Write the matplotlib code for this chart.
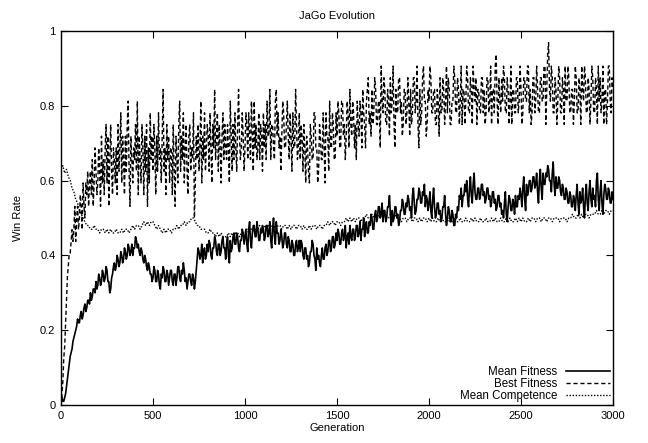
import matplotlib
matplotlib.use("Agg")
import matplotlib.pyplot as plt
import numpy as np

# fitness values logged every 5 generations, competence every 10
gens_fine = list(range(0, 3001, 5))
gens_coarse = list(range(0, 3001, 10))

# mean fitness of the population (one row = 100 generations)
mean_fitness = [
    0.03, 0.02, 0.01, 0.01, 0.02, 0.03, 0.05, 0.07, 0.09, 0.11, 0.13, 0.14, 0.15, 0.17, 0.18, 0.19, 0.20, 0.21, 0.23, 0.22,
    0.22, 0.24, 0.25, 0.23, 0.24, 0.26, 0.27, 0.25, 0.26, 0.28, 0.28, 0.27, 0.30, 0.28, 0.29, 0.31, 0.31, 0.30, 0.33, 0.31,
    0.32, 0.35, 0.34, 0.32, 0.33, 0.36, 0.35, 0.33, 0.34, 0.37, 0.36, 0.33, 0.33, 0.30, 0.31, 0.34, 0.35, 0.37, 0.38, 0.36,
    0.37, 0.40, 0.39, 0.37, 0.38, 0.41, 0.40, 0.38, 0.39, 0.42, 0.41, 0.39, 0.40, 0.43, 0.42, 0.40, 0.41, 0.43, 0.40, 0.42,
    0.42, 0.45, 0.44, 0.42, 0.43, 0.41, 0.40, 0.42, 0.41, 0.39, 0.38, 0.40, 0.39, 0.37, 0.36, 0.38, 0.37, 0.35, 0.35, 0.33,
    0.34, 0.37, 0.36, 0.33, 0.33, 0.36, 0.35, 0.32, 0.31, 0.35, 0.34, 0.37, 0.36, 0.33, 0.33, 0.36, 0.35, 0.32, 0.34, 0.36,
    0.36, 0.33, 0.32, 0.35, 0.35, 0.32, 0.34, 0.37, 0.37, 0.34, 0.33, 0.36, 0.35, 0.38, 0.36, 0.33, 0.34, 0.31, 0.33, 0.35,
    0.35, 0.33, 0.32, 0.35, 0.34, 0.31, 0.33, 0.36, 0.39, 0.42, 0.41, 0.39, 0.40, 0.43, 0.38, 0.41, 0.42, 0.39, 0.40, 0.43,
    0.41, 0.44, 0.43, 0.40, 0.39, 0.42, 0.42, 0.45, 0.44, 0.41, 0.40, 0.43, 0.43, 0.40, 0.41, 0.44, 0.45, 0.42, 0.42, 0.39,
    0.43, 0.45, 0.40, 0.38, 0.44, 0.41, 0.42, 0.45, 0.46, 0.43, 0.43, 0.46, 0.45, 0.42, 0.41, 0.44, 0.44, 0.47, 0.46, 0.43,
    0.45, 0.47, 0.43, 0.41, 0.47, 0.49, 0.44, 0.42, 0.46, 0.48, 0.48, 0.45, 0.45, 0.49, 0.47, 0.44, 0.44, 0.47, 0.46, 0.48,
    0.47, 0.44, 0.45, 0.48, 0.48, 0.45, 0.46, 0.49, 0.44, 0.42, 0.47, 0.50, 0.45, 0.43, 0.49, 0.46, 0.46, 0.43, 0.44, 0.47,
    0.45, 0.42, 0.43, 0.46, 0.46, 0.43, 0.42, 0.45, 0.44, 0.41, 0.41, 0.44, 0.43, 0.40, 0.40, 0.43, 0.44, 0.41, 0.42, 0.44,
    0.41, 0.44, 0.43, 0.40, 0.39, 0.42, 0.42, 0.39, 0.40, 0.37, 0.38, 0.41, 0.41, 0.44, 0.43, 0.40, 0.39, 0.36, 0.42, 0.39,
    0.40, 0.38, 0.37, 0.40, 0.42, 0.39, 0.39, 0.42, 0.43, 0.40, 0.41, 0.44, 0.44, 0.41, 0.42, 0.45, 0.45, 0.42, 0.43, 0.46,
    0.44, 0.47, 0.46, 0.43, 0.43, 0.46, 0.47, 0.44, 0.45, 0.48, 0.42, 0.45, 0.46, 0.43, 0.48, 0.45, 0.44, 0.47, 0.47, 0.44,
    0.45, 0.48, 0.48, 0.45, 0.46, 0.49, 0.44, 0.47, 0.47, 0.50, 0.45, 0.48, 0.49, 0.46, 0.46, 0.49, 0.48, 0.51, 0.50, 0.47,
    0.47, 0.51, 0.52, 0.49, 0.50, 0.53, 0.53, 0.50, 0.51, 0.54, 0.49, 0.52, 0.52, 0.49, 0.50, 0.53, 0.53, 0.56, 0.51, 0.48,
    0.52, 0.49, 0.50, 0.53, 0.53, 0.50, 0.51, 0.48, 0.49, 0.52, 0.52, 0.55, 0.54, 0.51, 0.51, 0.54, 0.53, 0.56, 0.55, 0.52,
    0.53, 0.50, 0.56, 0.58, 0.54, 0.51, 0.52, 0.55, 0.55, 0.58, 0.57, 0.54, 0.54, 0.57, 0.56, 0.59, 0.53, 0.56, 0.55, 0.52,
    0.54, 0.57, 0.52, 0.50, 0.55, 0.58, 0.53, 0.50, 0.51, 0.54, 0.54, 0.51, 0.52, 0.49, 0.50, 0.53, 0.53, 0.56, 0.51, 0.48,
    0.50, 0.53, 0.52, 0.49, 0.49, 0.52, 0.51, 0.48, 0.48, 0.51, 0.50, 0.53, 0.52, 0.56, 0.55, 0.58, 0.53, 0.56, 0.56, 0.59,
    0.57, 0.60, 0.55, 0.53, 0.58, 0.61, 0.56, 0.54, 0.59, 0.62, 0.57, 0.55, 0.55, 0.58, 0.58, 0.55, 0.56, 0.59, 0.59, 0.56,
    0.57, 0.54, 0.55, 0.58, 0.58, 0.55, 0.56, 0.53, 0.54, 0.57, 0.57, 0.54, 0.55, 0.52, 0.53, 0.56, 0.56, 0.53, 0.54, 0.51,
    0.52, 0.50, 0.54, 0.57, 0.51, 0.49, 0.53, 0.56, 0.55, 0.52, 0.52, 0.55, 0.54, 0.51, 0.56, 0.53, 0.53, 0.56, 0.55, 0.58,
    0.56, 0.53, 0.58, 0.61, 0.55, 0.52, 0.59, 0.56, 0.57, 0.60, 0.60, 0.57, 0.58, 0.61, 0.61, 0.58, 0.59, 0.62, 0.57, 0.54,
    0.60, 0.63, 0.58, 0.55, 0.62, 0.59, 0.59, 0.62, 0.61, 0.64, 0.63, 0.60, 0.60, 0.57, 0.62, 0.65, 0.59, 0.56, 0.61, 0.58,
    0.58, 0.61, 0.60, 0.57, 0.56, 0.59, 0.58, 0.55, 0.55, 0.58, 0.57, 0.54, 0.54, 0.57, 0.56, 0.53, 0.53, 0.56, 0.55, 0.52,
    0.56, 0.59, 0.54, 0.51, 0.57, 0.54, 0.55, 0.58, 0.53, 0.50, 0.56, 0.59, 0.54, 0.52, 0.57, 0.60, 0.55, 0.53, 0.58, 0.55,
    0.56, 0.53, 0.60, 0.62, 0.55, 0.52, 0.57, 0.60, 0.54, 0.51, 0.56, 0.59, 0.58, 0.55, 0.55, 0.58, 0.57, 0.54, 0.54, 0.57,
    0.55,
]

# best individual: games won out of 32 (one row = 100 generations)
best_wins = [
    0, 1, 2, 4, 5, 7, 9, 11, 12, 13, 13, 14, 15, 14, 15, 17, 14, 16, 17, 15,
    16, 18, 17, 15, 19, 17, 16, 19, 18, 20, 17, 19, 20, 18, 21, 17, 19, 22, 20, 18,
    19, 22, 20, 17, 23, 19, 21, 18, 22, 24, 19, 23, 17, 21, 24, 20, 18, 22, 21, 19,
    22, 18, 24, 20, 22, 25, 19, 23, 21, 18, 23, 20, 24, 26, 20, 17, 23, 21, 19, 22,
    21, 24, 20, 26, 18, 23, 21, 19, 24, 22, 18, 23, 20, 24, 17, 22, 19, 25, 21, 23,
    20, 24, 22, 18, 23, 20, 25, 21, 22, 19, 23, 27, 20, 22, 18, 24, 21, 23, 19, 22,
    22, 18, 24, 20, 17, 23, 21, 19, 24, 26, 20, 23, 21, 25, 19, 22, 24, 20, 18, 23,
    24, 20, 22, 21, 25, 16, 19, 23, 21, 24, 20, 22, 26, 19, 23, 21, 25, 20, 22, 24,
    23, 20, 25, 22, 19, 24, 22, 27, 21, 23, 25, 20, 24, 22, 19, 23, 25, 21, 24, 22,
    21, 24, 22, 19, 26, 23, 20, 24, 21, 25, 22, 20, 24, 27, 23, 21, 22, 25, 23, 20,
    22, 25, 24, 21, 25, 23, 21, 26, 23, 20, 26, 22, 24, 21, 22, 25, 21, 24, 23, 20,
    25, 22, 24, 21, 26, 23, 23, 27, 21, 24, 24, 22, 21, 26, 27, 23, 25, 22, 23, 20,
    23, 26, 25, 22, 22, 24, 26, 23, 21, 25, 23, 20, 25, 22, 22, 27, 24, 21, 22, 25,
    21, 24, 23, 20, 24, 22, 19, 23, 22, 20, 19, 24, 23, 21, 21, 25, 25, 22, 22, 19,
    20, 24, 23, 21, 21, 25, 22, 19, 25, 23, 23, 20, 26, 22, 22, 25, 24, 21, 21, 25,
    23, 26, 25, 22, 22, 26, 26, 23, 24, 21, 23, 26, 25, 22, 27, 24, 23, 26, 25, 22,
    24, 21, 26, 24, 23, 26, 25, 22, 27, 25, 24, 22, 26, 27, 28, 24, 25, 23, 27, 24,
    25, 28, 27, 24, 24, 26, 26, 22, 29, 26, 25, 28, 27, 24, 24, 27, 26, 23, 28, 25,
    26, 29, 24, 22, 27, 25, 25, 28, 28, 25, 26, 23, 24, 27, 27, 24, 25, 28, 26, 23,
    27, 24, 25, 28, 28, 25, 26, 29, 24, 22, 27, 24, 25, 28, 29, 26, 26, 23, 24, 27,
    26, 29, 28, 25, 25, 27, 27, 24, 24, 27, 26, 23, 28, 25, 25, 28, 27, 24, 26, 29,
    25, 28, 27, 24, 24, 26, 26, 29, 28, 25, 25, 28, 27, 24, 26, 29, 24, 27, 27, 24,
    26, 29, 28, 25, 25, 28, 27, 24, 29, 27, 26, 28, 24, 27, 27, 25, 25, 28, 28, 25,
    27, 24, 25, 28, 28, 25, 26, 29, 24, 27, 27, 25, 29, 30, 26, 24, 28, 26, 25, 28,
    26, 29, 28, 25, 25, 28, 27, 24, 26, 29, 24, 27, 27, 25, 25, 28, 28, 25, 26, 29,
    27, 24, 25, 28, 28, 26, 26, 29, 29, 25, 27, 24, 25, 28, 28, 25, 26, 29, 27, 25,
    25, 28, 28, 26, 26, 29, 29, 24, 27, 30, 31, 27, 26, 29, 28, 25, 25, 28, 27, 24,
    26, 29, 28, 25, 25, 28, 27, 24, 29, 26, 26, 29, 28, 25, 25, 27, 27, 24, 26, 29,
    28, 25, 25, 28, 27, 24, 29, 27, 26, 29, 28, 25, 25, 28, 27, 24, 26, 29, 28, 25,
    25, 28, 27, 24, 29, 26, 28, 25, 26, 29, 24, 27, 27, 24, 26, 29, 29, 26, 25, 28,
    27,
]
games_played = 32

# mean competence of the population (one row = 100 generations)
mean_competence = [
    0.63, 0.64, 0.62, 0.63, 0.61, 0.60, 0.58, 0.57, 0.55, 0.54,
    0.52, 0.51, 0.50, 0.49, 0.48, 0.48, 0.47, 0.47, 0.48, 0.47,
    0.47, 0.46, 0.47, 0.47, 0.46, 0.47, 0.46, 0.47, 0.46, 0.46,
    0.47, 0.46, 0.46, 0.47, 0.46, 0.47, 0.47, 0.46, 0.47, 0.48,
    0.47, 0.48, 0.48, 0.47, 0.48, 0.49, 0.48, 0.49, 0.48, 0.49,
    0.49, 0.48, 0.47, 0.48, 0.47, 0.46, 0.47, 0.46, 0.47, 0.47,
    0.46, 0.47, 0.47, 0.48, 0.47, 0.48, 0.48, 0.49, 0.48, 0.49,
    0.49, 0.50, 0.50, 0.49, 0.48, 0.48, 0.47, 0.47, 0.47, 0.46,
    0.46, 0.47, 0.46, 0.46, 0.45, 0.46, 0.45, 0.46, 0.45, 0.45,
    0.45, 0.46, 0.45, 0.46, 0.45, 0.46, 0.46, 0.45, 0.46, 0.46,
    0.46, 0.47, 0.46, 0.47, 0.47, 0.46, 0.47, 0.47, 0.48, 0.47,
    0.47, 0.48, 0.47, 0.48, 0.48, 0.47, 0.48, 0.47, 0.48, 0.48,
    0.47, 0.48, 0.48, 0.47, 0.48, 0.47, 0.48, 0.48, 0.47, 0.48,
    0.48, 0.47, 0.48, 0.47, 0.47, 0.48, 0.47, 0.48, 0.48, 0.47,
    0.48, 0.48, 0.47, 0.48, 0.48, 0.49, 0.48, 0.49, 0.49, 0.48,
    0.49, 0.49, 0.48, 0.49, 0.49, 0.50, 0.49, 0.50, 0.49, 0.50,
    0.49, 0.50, 0.50, 0.49, 0.50, 0.50, 0.51, 0.50, 0.50, 0.51,
    0.50, 0.51, 0.50, 0.51, 0.51, 0.50, 0.51, 0.50, 0.50, 0.51,
    0.50, 0.50, 0.51, 0.50, 0.50, 0.49, 0.50, 0.50, 0.49, 0.50,
    0.50, 0.49, 0.50, 0.50, 0.49, 0.50, 0.49, 0.50, 0.50, 0.49,
    0.50, 0.49, 0.50, 0.49, 0.49, 0.50, 0.49, 0.50, 0.49, 0.49,
    0.49, 0.50, 0.49, 0.49, 0.50, 0.49, 0.49, 0.50, 0.49, 0.49,
    0.50, 0.49, 0.49, 0.50, 0.49, 0.50, 0.49, 0.49, 0.50, 0.49,
    0.49, 0.50, 0.49, 0.49, 0.50, 0.49, 0.50, 0.49, 0.49, 0.50,
    0.49, 0.49, 0.50, 0.49, 0.50, 0.49, 0.49, 0.50, 0.49, 0.50,
    0.49, 0.50, 0.49, 0.49, 0.50, 0.49, 0.50, 0.50, 0.49, 0.50,
    0.50, 0.49, 0.50, 0.50, 0.49, 0.50, 0.50, 0.49, 0.50, 0.50,
    0.50, 0.49, 0.50, 0.50, 0.50, 0.49, 0.50, 0.50, 0.51, 0.50,
    0.50, 0.51, 0.50, 0.51, 0.50, 0.51, 0.51, 0.50, 0.51, 0.51,
    0.51, 0.52, 0.51, 0.51, 0.52, 0.51, 0.52, 0.52, 0.51, 0.52,
    0.52,
]

x_ticks = [0, 500, 1000, 1500, 2000, 2500, 3000]
y_ticks = [0, 0.2, 0.4, 0.6, 0.8, 1]
y_tick_labels = ["0", "0.2", "0.4", "0.6", "0.8", "1"]

plt.rcParams["font.family"] = ["Liberation Sans", "DejaVu Sans"]

fig = plt.figure(figsize=(6.48, 4.43), dpi=100)
ax = fig.add_axes([61 / 648, 38 / 443, 552 / 648, 374 / 443])

best_fitness = np.array(best_wins) / games_played

ax.plot(gens_fine, mean_fitness, color="black", lw=1.2, label="Mean Fitness")
ax.plot(gens_fine, best_fitness, color="black", lw=1.0,
        linestyle=(0, (3, 2)), label="Best Fitness")
ax.plot(gens_coarse, mean_competence, color="black", lw=1.0,
        linestyle=(0, (1, 1.2)), label="Mean Competence")

ax.set_xlim(0, 3000)
ax.set_ylim(0, 1)
ax.set_xticks(x_ticks)
ax.set_yticks(y_ticks)
ax.set_yticklabels(y_tick_labels)
ax.tick_params(direction="in", top=True, right=True, length=5, width=0.8,
               labelsize=8, pad=4)
for s in ax.spines.values():
    s.set_linewidth(1.0)

ax.set_title("JaGo Evolution", fontsize=8, pad=9)
ax.set_xlabel("Generation", fontsize=8, labelpad=2)
ax.set_ylabel("Win Rate", fontsize=8, labelpad=12)

ax.legend(loc="lower right", frameon=False, markerfirst=False, fontsize=8.3,
          handlelength=3.8, handletextpad=0.8, labelspacing=0.0,
          borderaxespad=0.05, borderpad=0.2)

fig.savefig("out.png", dpi=100)
